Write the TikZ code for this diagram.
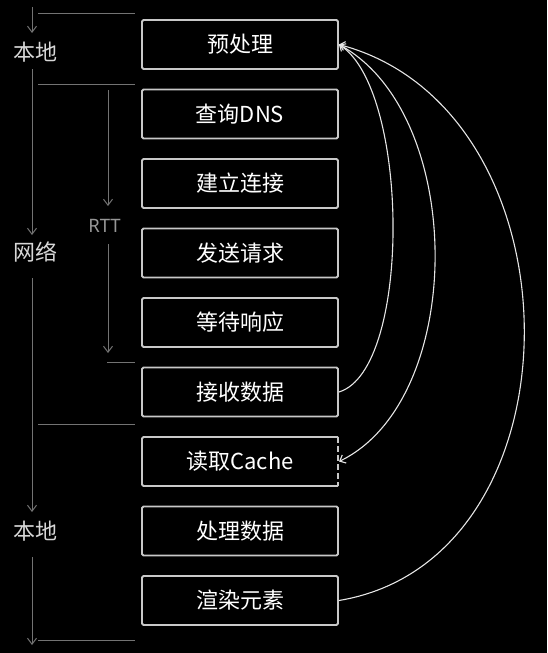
\documentclass[tikz,border=0pt]{standalone}
\usepackage{fontspec}
\setmainfont{Noto Sans CJK SC}
\newfontfamily\rttfont{Noto Sans}
\usetikzlibrary{arrows.meta}
\definecolor{boxgray}{RGB}{200,200,200}
\definecolor{linegray}{RGB}{115,115,115}
\definecolor{labgray}{RGB}{215,215,215}
\definecolor{rttgray}{RGB}{150,150,150}
\definecolor{flowwhite}{RGB}{230,230,230}
\tikzset{
  box/.style={draw=boxgray, line width=1.8pt, rounded corners=1.5pt,
    minimum width=196pt, minimum height=49pt, inner sep=0pt,
    text=white, font=\fontsize{22}{22}\selectfont},
  boxline/.style={draw=boxgray, line width=1.8pt, rounded corners=1.5pt},
  side/.style={draw=linegray, line width=1pt},
  sidearrow/.style={side, -{Straight Barb[length=6pt,width=9pt]}},
  lab/.style={text=labgray, font=\fontsize{22}{22}\selectfont, inner sep=0pt},
  rttlab/.style={text=rttgray, font=\rttfont\fontsize{18.5}{18.5}\selectfont, inner sep=0pt},
  flow/.style={draw=flowwhite, line width=1.1pt, -{Straight Barb[length=5pt,width=9pt]}},
}
\begin{document}
\begin{tikzpicture}[x=1pt,y=-1pt]
\fill[black] (0,0) rectangle (547,653);
\useasboundingbox (0,0) rectangle (547,653);

% boxes
\node[box] (yuchuli) at (240,44.5) {预处理};
\node[box] (dns) at (240,114) {查询DNS};
\node[box] (lianjie) at (240,183.5) {建立连接};
\node[box] (fasong) at (240,253) {发送请求};
\node[box] (dengdai) at (240,322.5) {等待响应};
\node[box] (jieshou) at (240,392) {接收数据};
\node[box, draw=none, outer sep=0pt] (cache) at (240,461.5) {读取Cache};
\node[box] (chuli) at (240,531) {处理数据};
\node[box] (xuanran) at (240,600.5) {渲染元素};
\draw[boxline] (cache.north east) -- (cache.north west) -- (cache.south west) -- (cache.south east);
\draw[draw=boxgray, line width=1.8pt, dash pattern=on 6pt off 3pt] (cache.north east) -- (cache.south east);

% left labels
\node[lab] (l1) at (35,52) {本地};
\node[lab] (l2) at (35,252) {网络};
\node[lab] (l3) at (35,531) {本地};
\node[rttlab] (rtt) at (104.5,226) {RTT};

% left vertical arrows
\coordinate (a1s) at (32,7);   \coordinate (a1e) at (32,33);
\coordinate (a2s) at (32,69);  \coordinate (a2e) at (32,235);
\coordinate (a3s) at (32,278); \coordinate (a3e) at (32,512);
\coordinate (a4s) at (32,557); \coordinate (a4e) at (32,645);
\draw[sidearrow] (a1s) -- (a1e);
\draw[sidearrow] (a2s) -- (a2e);
\draw[sidearrow] (a3s) -- (a3e);
\draw[sidearrow] (a4s) -- (a4e);

% RTT arrows
\coordinate (r1s) at (108,90);  \coordinate (r1e) at (108,206);
\coordinate (r2s) at (108,244); \coordinate (r2e) at (108,353);
\draw[sidearrow] (r1s) -- (r1e);
\draw[sidearrow] (r2s) -- (r2e);

% horizontal separators
\coordinate (h1a) at (38,13.5);  \coordinate (h1b) at (135,13.5);
\coordinate (h2a) at (38,84);  \coordinate (h2b) at (135,84);
\coordinate (h3a) at (38,424); \coordinate (h3b) at (135,424);
\coordinate (h4a) at (38,640.5); \coordinate (h4b) at (135,640.5);
\coordinate (h5a) at (107,362); \coordinate (h5b) at (135,362);
\draw[side] (h1a) -- (h1b);
\draw[side] (h2a) -- (h2b);
\draw[side] (h3a) -- (h3b);
\draw[side] (h4a) -- (h4b);
\draw[side] (h5a) -- (h5b);

% flow curves
\draw[flow] (jieshou.east) .. controls +(73,-22) and +(71,45) .. (yuchuli.east);
\draw[flow] (yuchuli.east) .. controls +(128,68) and +(128,-62) .. ([xshift=1pt]cache.east);
\draw[flow] (xuanran.east) .. controls +(248,-41) and +(246,65) .. (yuchuli.east);
\end{tikzpicture}
\end{document}
